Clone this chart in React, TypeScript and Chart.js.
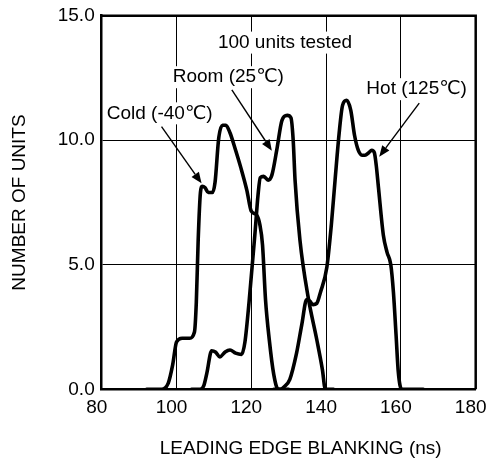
import React, { useEffect, useRef } from "react";
import { Chart, registerables } from "chart.js";

Chart.register(...registerables);

// Cold (-40°C)
const coldX = [92, 96, 97.8, 99.0, 100.0, 101.5, 103.5, 104.8, 105.3, 105.8, 106.4, 106.9, 107.6, 108.5, 109.6, 110.3, 111.3, 112.3, 113.2, 114.3, 115.6, 117.2, 118.8, 120.0, 121.4, 122.3, 123.0, 123.8, 124.8, 126.0, 127.2, 130];
const coldY = [0, 0, 0.25, 1.0, 1.9, 2.05, 2.05, 2.3, 3.5, 6.0, 7.9, 8.15, 8.1, 7.9, 7.9, 8.3, 10.1, 10.6, 10.6, 10.3, 9.7, 8.9, 8.0, 7.15, 7.0, 6.6, 5.8, 3.6, 2.0, 0.6, 0, 0];

// Room (25°C)
const roomX = [104, 106.3, 107.3, 108.1, 109.4, 110.4, 111.6, 113.0, 114.3, 115.8, 117.4, 118.3, 119.4, 121.0, 121.8, 122.4, 123.3, 124.5, 125.5, 126.8, 128.2, 129.6, 130.6, 131.2, 131.7, 133.0, 135.2, 137.5, 139.0, 139.8, 142];
const roomY = [0, 0, 0.15, 0.64, 1.55, 1.5, 1.3, 1.5, 1.58, 1.45, 1.4, 1.9, 3.5, 6.3, 7.8, 8.5, 8.55, 8.4, 8.6, 9.6, 10.8, 11.0, 10.9, 10.0, 8.4, 6.0, 3.7, 2.0, 0.8, 0, 0];

// Hot (125°C)
const hotX = [126, 127.8, 128.8, 130.3, 132.1, 133.5, 134.8, 135.6, 136.5, 137.5, 138.5, 140.2, 141.4, 142.4, 143.5, 144.4, 145.5, 146.6, 147.6, 148.6, 149.6, 150.4, 151.4, 152.2, 152.9, 153.4, 154.0, 155.3, 156.3, 157.3, 158.0, 158.7, 159.3, 160.2, 166];
const hotY = [0, 0, 0.1, 0.4, 1.45, 2.6, 3.6, 3.55, 3.4, 3.45, 3.9, 4.9, 6.6, 8.4, 10.3, 11.4, 11.6, 11.2, 10.2, 9.6, 9.4, 9.4, 9.5, 9.6, 9.5, 9.0, 8.1, 6.2, 5.5, 5.0, 3.9, 2.2, 0.7, 0, 0];

// Annotation labels (data coordinates)
const labelTexts = ["100 units tested", "Room (25\u2103)", "Hot (125\u2103)", "Cold (-40\u2103)"];
const labelX = [129.0, 113.85, 164.2, 95.5];
const labelY = [13.92, 12.53, 12.05, 11.08];

// Arrows (data coordinates)
const arrowFromX = [96.0, 114.8, 164.9];
const arrowFromY = [10.55, 12.02, 11.49];
const arrowToX = [106.7, 125.5, 154.2];
const arrowToY = [8.27, 9.58, 9.34];

const xTitle = "LEADING EDGE BLANKING (ns)";
const yTitle = "NUMBER OF UNITS";

const FONT = "'Liberation Sans', Arial, 'DejaVu Sans', sans-serif";

function toPts(xs: number[], ys: number[]) {
  return xs.map((x, i) => ({ x, y: ys[i] }));
}

const annotationPlugin = {
  id: "annotations",
  beforeDatasetsDraw(chart: any) {
    const { ctx, chartArea } = chart;
    ctx.save();
    ctx.strokeStyle = "#000";
    ctx.lineWidth = 2.5;
    ctx.beginPath();
    ctx.moveTo(chartArea.left, chartArea.top);
    ctx.lineTo(chartArea.right, chartArea.top);
    ctx.lineTo(chartArea.right, chartArea.bottom);
    ctx.stroke();
    ctx.restore();
  },
  afterDatasetsDraw(chart: any) {
    const { ctx, scales, chartArea } = chart;
    const xs = scales.x;
    const ys = scales.y;
    ctx.save();
    ctx.font = `19px ${FONT}`;
    ctx.textAlign = "center";
    ctx.textBaseline = "middle";
    for (let i = 0; i < labelTexts.length; i++) {
      const px = xs.getPixelForValue(labelX[i]);
      const py = ys.getPixelForValue(labelY[i]);
      const w = ctx.measureText(labelTexts[i]).width;
      ctx.fillStyle = "#fff";
      ctx.fillRect(px - w / 2 - 2, py - 11, w + 4, 22);
      ctx.fillStyle = "#000";
      ctx.fillText(labelTexts[i], px, py);
    }
    ctx.strokeStyle = "#000";
    ctx.fillStyle = "#000";
    ctx.lineWidth = 1.4;
    for (let i = 0; i < arrowFromX.length; i++) {
      const x0 = xs.getPixelForValue(arrowFromX[i]);
      const y0 = ys.getPixelForValue(arrowFromY[i]);
      const x1 = xs.getPixelForValue(arrowToX[i]);
      const y1 = ys.getPixelForValue(arrowToY[i]);
      const ang = Math.atan2(y1 - y0, x1 - x0);
      const len = 11;
      const hw = 4.5;
      const bx = x1 - len * Math.cos(ang);
      const by = y1 - len * Math.sin(ang);
      ctx.beginPath();
      ctx.moveTo(x0, y0);
      ctx.lineTo(bx, by);
      ctx.stroke();
      ctx.beginPath();
      ctx.moveTo(x1, y1);
      ctx.lineTo(bx + hw * Math.sin(ang), by - hw * Math.cos(ang));
      ctx.lineTo(bx - hw * Math.sin(ang), by + hw * Math.cos(ang));
      ctx.closePath();
      ctx.fill();
    }
    // x-axis title
    ctx.font = `19px ${FONT}`;
    ctx.textAlign = "center";
    ctx.textBaseline = "middle";
    ctx.fillText(xTitle, (chartArea.left + chartArea.right) / 2 + 12, 449);
    ctx.restore();
  },
};

export default function App() {
  const ref = useRef<HTMLCanvasElement | null>(null);
  useEffect(() => {
    if (!ref.current) return;
    const lineStyle = {
      borderColor: "#000",
      borderWidth: 3.6,
      pointRadius: 0,
      fill: false,
      cubicInterpolationMode: "monotone" as const,
      borderJoinStyle: "round" as const,
      borderCapStyle: "round" as const,
    };
    const chart = new Chart(ref.current, {
      type: "line",
      data: {
        datasets: [
          { label: "Cold (-40\u2103)", data: toPts(coldX, coldY), ...lineStyle },
          { label: "Room (25\u2103)", data: toPts(roomX, roomY), ...lineStyle },
          { label: "Hot (125\u2103)", data: toPts(hotX, hotY), ...lineStyle },
        ],
      },
      options: {
        animation: false,
        responsive: true,
        maintainAspectRatio: false,
        devicePixelRatio: 1,
        layout: { autoPadding: false, padding: { top: 15.7, right: 13.3, left: 0, bottom: 0 } },
        plugins: {
          legend: { display: false },
          tooltip: { enabled: false },
        },
        scales: {
          x: {
            type: "linear",
            min: 80,
            max: 180,
            ticks: {
              stepSize: 20,
              padding: 7,
              labelOffset: -5,
              color: "#000",
              font: { family: FONT, size: 19 },
            },
            grid: { color: "#000", lineWidth: 1, drawTicks: false },
            border: { display: true, color: "#000", width: 2.5 },
            afterFit(scale: any) {
              scale.height = 76.7;
              scale.paddingLeft = 0;
              scale.paddingRight = 0;
            },
          },
          y: {
            type: "linear",
            min: 0,
            max: 15,
            ticks: {
              stepSize: 5,
              padding: 7,
              color: "#000",
              font: { family: FONT, size: 19 },
              callback: (v: any) => Number(v).toFixed(1),
            },
            grid: { color: "#000", lineWidth: 1, drawTicks: false },
            border: { display: true, color: "#000", width: 2.5 },
            title: {
              display: true,
              text: yTitle,
              color: "#000",
              font: { family: FONT, size: 19 },
              padding: { top: 8, bottom: 0 },
            },
            afterFit(scale: any) {
              scale.width = 101.7;
              scale.paddingTop = 0;
              scale.paddingBottom = 0;
            },
          },
        },
      },
      plugins: [annotationPlugin],
    });
    return () => chart.destroy();
  }, []);
  return (
    <div style={{ position: "absolute", left: 0, top: 0, width: 489, height: 466, background: "#fff" }}>
      <canvas ref={ref} />
    </div>
  );
}
